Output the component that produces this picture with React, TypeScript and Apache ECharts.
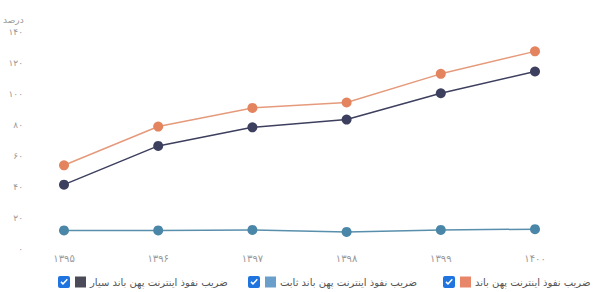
import React, { useEffect, useRef } from "react";
import * as echarts from "echarts";

const categories = ["۱۳۹۵", "۱۳۹۶", "۱۳۹۷", "۱۳۹۸", "۱۳۹۹", "۱۴۰۰"];
const broadband = [54, 79, 91, 94.5, 113, 127.5];
const mobile = [41.5, 66.5, 78.5, 83.5, 100.5, 114.5];
const fixed = [12, 12, 12.3, 11, 12.3, 12.8];
const yTicks = [0, 20, 40, 60, 80, 100, 120, 140];

const nameBroadband = "ضریب نفوذ اینترنت پهن باند";
const nameMobile = "ضریب نفوذ اینترنت پهن باند سیار";
const nameFixed = "ضریب نفوذ اینترنت پهن باند ثابت";

const toFa = (v: number | string) =>
  String(v).replace(/[0-9]/g, (d) => "۰۱۲۳۴۵۶۷۸۹"[Number(d)]);

const checkIcon =
  "path://M2,0H10Q12,0,12,2V10Q12,12,10,12H2Q0,12,0,10V2Q0,0,2,0ZM2.5,6.5L5,9L9.8,3.8L8.8,2.8L5,6.8L3.5,5.3Z";

const FONT = "DejaVu Sans";

function makeLegend(name: string, sqColor: string, left: number) {
  return {
    data: [
      {
        name,
        icon: checkIcon,
        itemStyle: { color: "#1f74e0", borderWidth: 0 },
      },
    ],
    left,
    top: 271,
    itemWidth: 12,
    itemHeight: 12,
    selectedMode: false,
    formatter: (n: string) => `{sq|}{t|${n}}`,
    textStyle: {
      rich: {
        sq: { width: 11, height: 11, backgroundColor: sqColor },
        t: { fontSize: 10, color: "#555", fontFamily: FONT, padding: [0, 0, 0, 4] },
      },
    },
  };
}

export default function App() {
  const ref = useRef<HTMLDivElement>(null);
  useEffect(() => {
    if (!ref.current) return;
    const chart = echarts.init(ref.current, undefined, { renderer: "svg" });
    chart.setOption({
      animation: false,
      backgroundColor: "#fff",
      title: {
        text: "درصد",
        left: 3,
        top: 15,
        padding: 0,
        textStyle: { fontSize: 9, color: "#999", fontWeight: "normal", fontFamily: FONT },
      },
      grid: { left: 64, right: 65, top: 32, bottom: 43 },
      legend: [
        makeLegend(nameBroadband, "#e8866a", 438),
        makeLegend(nameFixed, "#6b9fcb", 243),
        makeLegend(nameMobile, "#4a4a58", 53),
      ],
      xAxis: {
        type: "category",
        data: categories,
        boundaryGap: false,
        axisLine: { show: false },
        axisTick: { show: false },
        axisLabel: { color: "#999", fontSize: 10, margin: 4, fontFamily: FONT },
      },
      yAxis: {
        type: "value",
        min: 0,
        max: 140,
        interval: 20,
        splitLine: { show: false },
        axisLine: { show: false },
        axisTick: { show: false },
        axisLabel: {
          color: "#999",
          fontSize: 9,
          margin: 41,
          fontFamily: FONT,
          formatter: (v: number) => (yTicks.includes(v) ? toFa(v) : ""),
        },
      },
      series: [
        {
          name: nameFixed,
          type: "line",
          data: fixed,
          symbol: "circle",
          symbolSize: 10,
          itemStyle: { color: "#4a86a8" },
          lineStyle: { width: 1.5, color: "#5a8fac" },
        },
        {
          name: nameMobile,
          type: "line",
          data: mobile,
          symbol: "circle",
          symbolSize: 10,
          itemStyle: { color: "#3d3f5e" },
          lineStyle: { width: 1.5, color: "#3d3f5e" },
        },
        {
          name: nameBroadband,
          type: "line",
          data: broadband,
          symbol: "circle",
          symbolSize: 10,
          itemStyle: { color: "#e3845f" },
          lineStyle: { width: 1.5, color: "#e59a7b" },
        },
      ],
    });
    return () => chart.dispose();
  }, []);
  return <div ref={ref} style={{ width: 600, height: 292, position: "absolute", left: 0, top: 0 }} />;
}
